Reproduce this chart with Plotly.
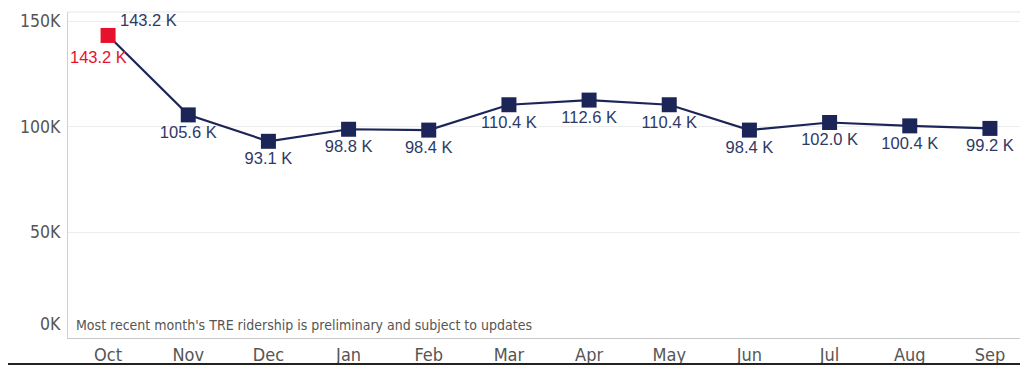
import plotly.graph_objects as go

months = ["Oct", "Nov", "Dec", "Jan", "Feb", "Mar", "Apr", "May", "Jun", "Jul", "Aug", "Sep"]
ridership = [143200, 105600, 93100, 98800, 98400, 110400, 112600, 110400, 98400, 102000, 100400, 99200]
value_labels = ["143.2 K", "105.6 K", "93.1 K", "98.8 K", "98.4 K", "110.4 K", "112.6 K",
                "110.4 K", "98.4 K", "102.0 K", "100.4 K", "99.2 K"]
y_ticks = [0, 50000, 100000, 150000]
y_tick_text = ["0K", "50K", "100K", "150K"]
note = "Most recent month's TRE ridership is preliminary and subject to updates"

NAVY = "#1c2558"
LABEL = "#2e3966"
RED = "#e8112d"
GREY = "#555555"
NARROW = "DejaVu Sans Condensed, Liberation Sans Narrow, Arial Narrow, sans-serif"
SANS = "Liberation Sans, Arial, sans-serif"

fig = go.Figure()

fig.add_trace(go.Scatter(
    x=months, y=ridership, mode="lines",
    line=dict(color=NAVY, width=2.2), hoverinfo="skip", showlegend=False))
fig.add_trace(go.Scatter(
    x=months[1:], y=ridership[1:], mode="markers+text",
    marker=dict(symbol="square", size=15, color=NAVY),
    text=value_labels[1:], textposition="bottom center",
    textfont=dict(family=SANS, size=16.5, color=LABEL), showlegend=False))
fig.add_trace(go.Scatter(
    x=months[:1], y=ridership[:1], mode="markers",
    marker=dict(symbol="square", size=15, color=RED), showlegend=False))

annotations = [
    dict(x=months[0], y=ridership[0], xref="x", yref="y", text=value_labels[0],
         showarrow=False, xanchor="center", yanchor="top", xshift=-10, yshift=-11,
         font=dict(family=SANS, size=16.5, color=RED)),
    dict(x=months[0], y=ridership[0], xref="x", yref="y", text=value_labels[0],
         showarrow=False, xanchor="left", yanchor="middle", xshift=10, yshift=15,
         font=dict(family=SANS, size=16.5, color=LABEL)),
    dict(x=0.006, y=0.01, xref="paper", yref="paper", text=note, showarrow=False,
         xanchor="left", yanchor="bottom",
         font=dict(family=NARROW, size=14, color=GREY)),
]
for v, t in zip(y_ticks, y_tick_text):
    annotations.append(dict(
        x=0, y=v, xref="paper", yref="y", text=t, showarrow=False,
        xanchor="right", yanchor="bottom" if v == 0 else "middle",
        xshift=-5, yshift=2 if v == 0 else 0,
        font=dict(family=NARROW, size=17.5, color=GREY)))

# page body adds an 8px offset; margins compensate
fig.update_layout(
    width=1028, height=368,
    margin=dict(l=60, r=10, t=4, b=38),
    paper_bgcolor="white", plot_bgcolor="white",
    annotations=annotations,
    shapes=[
        dict(type="line", xref="paper", yref="paper", x0=-0.08, x1=1.03, y0=-0.08, y1=-0.08,
             line=dict(color="#222222", width=2)),
        dict(type="line", xref="paper", yref="paper", x0=0, x1=1, y0=1, y1=1,
             line=dict(color="#e6e6e6", width=1)),
    ],
    xaxis=dict(
        type="category", range=[-0.5, 11.45], showgrid=False, showline=True,
        linecolor="#c8c8c8", linewidth=1, ticks="",
        tickfont=dict(family=NARROW, size=18, color=GREY), ticklabelstandoff=0,
    ),
    yaxis=dict(
        range=[0, 154300], tickvals=y_ticks, showticklabels=False,
        showgrid=True, gridcolor="#ececec", gridwidth=1, zeroline=False,
        showline=True, linecolor="#d0d0d0", linewidth=1,
    ),
)

fig.write_html("out.html")
